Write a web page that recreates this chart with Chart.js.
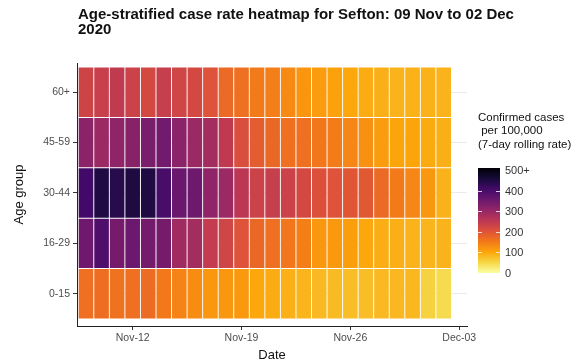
<!DOCTYPE html>
<html>
<head>
<meta charset="utf-8">
<script src="https://cdn.jsdelivr.net/npm/chart.js@4"></script>
<style>
  body { margin: 0; background: #fff; }
  #wrap { position: relative; width: 582px; height: 362px; }
  #title {
    position: absolute; left: 78px; top: 6px;
    font: bold 15px "Liberation Sans", Arial, sans-serif;
    line-height: 15px; color: #111;
  }
</style>
</head>
<body>
<div id="wrap">
  <canvas id="heatmap" width="582" height="362"></canvas>
  <div id="title">Age-stratified case rate heatmap for Sefton: 09 Nov to 02 Dec<br>2020</div>
</div>
<script>
// Days shown (one tile per day)
const dates = [
  '2020-11-09', '2020-11-10', '2020-11-11', '2020-11-12', '2020-11-13', '2020-11-14',
  '2020-11-15', '2020-11-16', '2020-11-17', '2020-11-18', '2020-11-19', '2020-11-20',
  '2020-11-21', '2020-11-22', '2020-11-23', '2020-11-24', '2020-11-25', '2020-11-26',
  '2020-11-27', '2020-11-28', '2020-11-29', '2020-11-30', '2020-12-01', '2020-12-02'
];
const ageGroups = ['0-15', '16-29', '30-44', '45-59', '60+'];

// 7-day rolling case rate per 100,000
const rate0to15 = [160, 163, 158, 160, 165, 150, 138, 128, 116, 116, 113, 98,
                   93, 89, 84, 80, 78, 76, 76, 80, 82, 82, 55, 45];
const rate16to29 = [345, 385, 335, 347, 337, 335, 285, 280, 240, 222, 198, 170,
                    160, 153, 142, 115, 113, 108, 98, 92, 90, 86, 84, 86];
const rate30to44 = [400, 440, 430, 440, 440, 392, 350, 345, 305, 290, 250, 228,
                    235, 228, 215, 202, 198, 193, 190, 168, 148, 135, 115, 87];
const rate45to59 = [310, 290, 305, 315, 330, 340, 310, 290, 280, 245, 205, 185,
                    170, 160, 160, 152, 145, 135, 122, 110, 100, 100, 95, 90];
const rate60plus = [225, 232, 242, 228, 215, 235, 222, 215, 198, 168, 160, 148,
                    143, 130, 118, 110, 105, 98, 93, 90, 86, 88, 88, 86];
const rates = [rate0to15, rate16to29, rate30to44, rate45to59, rate60plus];

// x axis ticks
const xTickDates = ['2020-11-12', '2020-11-19', '2020-11-26', '2020-12-03'];
const xTickLabels = ['Nov-12', 'Nov-19', 'Nov-26', 'Dec-03'];

// colour legend
const legendBreaks = [0, 100, 200, 300, 400, 500];
const legendLabels = ['0', '100', '200', '300', '400', '500+'];
const rateMax = 500;

// inferno palette, dark -> light
const inferno = ['#000004', '#160B39', '#420A68', '#6A176E', '#932667', '#BC3754',
                 '#DD513A', '#F37819', '#FCA50A', '#F6D746', '#FCFFA4'];

const FONT = '"Liberation Sans", Arial, sans-serif';

function hexToRgb(h) {
  return [1, 3, 5].map(i => parseInt(h.slice(i, i + 2), 16));
}

// high rate = dark, zero = pale yellow
function rateColor(v) {
  const t = 1 - Math.min(Math.max(v / rateMax, 0), 1);
  const pos = t * (inferno.length - 1);
  const i = Math.min(Math.floor(pos), inferno.length - 2);
  const f = pos - i;
  const a = hexToRgb(inferno[i]), b = hexToRgb(inferno[i + 1]);
  const c = a.map((x, k) => Math.round(x + (b[k] - x) * f));
  return `rgb(${c[0]}, ${c[1]}, ${c[2]})`;
}

const dayMs = 86400000;
const dayIndex = d => (Date.parse(d) - Date.parse(dates[0])) / dayMs;

const datasets = ageGroups.map((g, gi) => ({
  label: g,
  data: rates[gi].map((v, di) => ({ x: dayIndex(dates[di]), y: [gi - 0.5, gi + 0.5] })),
  backgroundColor: rates[gi].map(rateColor),
  borderColor: 'rgba(255, 255, 255, 0.18)',
  borderWidth: 0.8,
  borderSkipped: false,
  grouped: false,
  barPercentage: 1,
  categoryPercentage: 1
}));

// colour bar legend on the right
const colourBar = {
  id: 'colourBar',
  afterDraw(chart) {
    const ctx = chart.ctx;
    const x0 = 478, w = 22, top = 168, bottom = 273;
    const yFor = v => 273 - (v / rateMax) * 103;

    ctx.save();
    ctx.fillStyle = '#111';
    ctx.font = `11.5px ${FONT}`;
    ctx.textBaseline = 'middle';
    ctx.textAlign = 'left';
    ctx.fillText('Confirmed cases', 478, 118);
    ctx.fillText(' per 100,000', 478, 131);
    ctx.fillText('(7-day rolling rate)', 478, 145);

    const grad = ctx.createLinearGradient(0, bottom, 0, top);
    inferno.slice().reverse().forEach((c, i) => grad.addColorStop(i / (inferno.length - 1), c));
    ctx.fillStyle = grad;
    ctx.fillRect(x0, top, w, bottom - top);

    ctx.strokeStyle = 'rgba(255, 255, 255, 0.8)';
    ctx.lineWidth = 1;
    ctx.fillStyle = '#333';
    ctx.font = `11px ${FONT}`;
    legendBreaks.forEach((v, i) => {
      const y = Math.round(yFor(v)) + 0.5;
      if (i > 0 && i < legendBreaks.length - 1) {
        ctx.beginPath();
        ctx.moveTo(x0, y); ctx.lineTo(x0 + 4, y);
        ctx.moveTo(x0 + w - 4, y); ctx.lineTo(x0 + w, y);
        ctx.stroke();
      }
      ctx.fillText(legendLabels[i], x0 + w + 5, yFor(v) + 1);
    });
    ctx.restore();
  }
};

new Chart(document.getElementById('heatmap'), {
  type: 'bar',
  data: { datasets },
  plugins: [colourBar],
  options: {
    responsive: false,
    animation: false,
    layout: { padding: { top: 63, right: 115, left: 0, bottom: 0 } },
    plugins: {
      legend: { display: false },
      tooltip: { enabled: false }
    },
    scales: {
      x: {
        type: 'linear',
        offset: false,
        bounds: 'data',
        min: -0.58,
        max: 24.5,
        afterBuildTicks: scale => {
          scale.ticks = xTickDates.map(d => ({ value: dayIndex(d) }));
        },
        afterFit: scale => { scale.height = 36; },
        ticks: {
          callback: (v) => xTickLabels[xTickDates.findIndex(d => dayIndex(d) === v)],
          color: '#4d4d4d',
          font: { family: FONT, size: 10.5 },
          padding: 2,
          maxRotation: 0
        },
        grid: { display: true, offset: false, drawOnChartArea: false, tickLength: 4, tickColor: '#333' },
        border: { display: true, color: '#222', width: 1 },
        title: {
          display: true,
          text: 'Date',
          color: '#111',
          font: { family: FONT, size: 13, lineHeight: 1 },
          padding: { top: 0, bottom: 0 }
        }
      },
      y: {
        type: 'linear',
        bounds: 'data',
        min: -0.64,
        max: 4.58,
        afterBuildTicks: scale => {
          scale.ticks = ageGroups.map((g, i) => ({ value: i }));
        },
        afterFit: scale => { scale.width = 77; },
        ticks: {
          callback: v => ageGroups[v],
          color: '#4d4d4d',
          font: { family: FONT, size: 10.5 },
          padding: 3
        },
        grid: { color: '#ebebeb', lineWidth: 1, tickLength: 4, tickColor: '#333' },
        border: { display: true, color: '#222', width: 1 },
        title: {
          display: true,
          text: 'Age group',
          color: '#111',
          font: { family: FONT, size: 13, lineHeight: 1 },
          padding: { top: 13, bottom: 0 }
        }
      }
    }
  }
});
</script>
</body>
</html>
